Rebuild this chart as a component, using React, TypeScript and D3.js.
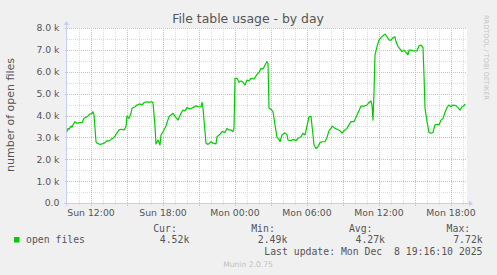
import React from "react";
import * as d3 from "d3";

// ---- data (values in thousands of open files) ----
const times = [
  "2025-12-07 10:00","2025-12-07 10:05","2025-12-07 10:10","2025-12-07 10:20","2025-12-07 10:25","2025-12-07 10:30",
  "2025-12-07 10:40","2025-12-07 10:50","2025-12-07 11:00","2025-12-07 11:15","2025-12-07 11:25","2025-12-07 11:35",
  "2025-12-07 11:45","2025-12-07 11:55","2025-12-07 12:05","2025-12-07 12:10","2025-12-07 12:15","2025-12-07 12:25",
  "2025-12-07 12:30","2025-12-07 12:45","2025-12-07 12:55","2025-12-07 13:10","2025-12-07 13:20","2025-12-07 13:30",
  "2025-12-07 13:40","2025-12-07 13:50","2025-12-07 14:00","2025-12-07 14:10","2025-12-07 14:20","2025-12-07 14:30",
  "2025-12-07 14:45","2025-12-07 14:55","2025-12-07 15:00","2025-12-07 15:10","2025-12-07 15:20","2025-12-07 15:25",
  "2025-12-07 15:40","2025-12-07 15:50","2025-12-07 16:05","2025-12-07 16:15","2025-12-07 16:25","2025-12-07 16:40",
  "2025-12-07 16:50","2025-12-07 17:00","2025-12-07 17:10","2025-12-07 17:20","2025-12-07 17:25","2025-12-07 17:35",
  "2025-12-07 17:45","2025-12-07 17:50","2025-12-07 18:00","2025-12-07 18:15","2025-12-07 18:20","2025-12-07 18:30",
  "2025-12-07 18:40","2025-12-07 18:50","2025-12-07 19:05","2025-12-07 19:15","2025-12-07 19:30","2025-12-07 19:40",
  "2025-12-07 19:50","2025-12-07 20:00","2025-12-07 20:15","2025-12-07 20:30","2025-12-07 20:45","2025-12-07 20:55",
  "2025-12-07 21:10","2025-12-07 21:15","2025-12-07 21:20","2025-12-07 21:30","2025-12-07 21:35","2025-12-07 21:45",
  "2025-12-07 22:00","2025-12-07 22:10","2025-12-07 22:25","2025-12-07 22:30","2025-12-07 22:45","2025-12-07 22:55",
  "2025-12-07 23:10","2025-12-07 23:20","2025-12-07 23:30","2025-12-07 23:40","2025-12-07 23:50","2025-12-07 23:55",
  "2025-12-08 00:00","2025-12-08 00:10","2025-12-08 00:20","2025-12-08 00:30","2025-12-08 00:40","2025-12-08 00:50",
  "2025-12-08 01:00","2025-12-08 01:10","2025-12-08 01:20","2025-12-08 01:35","2025-12-08 01:50","2025-12-08 02:00",
  "2025-12-08 02:10","2025-12-08 02:20","2025-12-08 02:35","2025-12-08 02:40","2025-12-08 02:45","2025-12-08 02:50",
  "2025-12-08 03:00","2025-12-08 03:10","2025-12-08 03:20","2025-12-08 03:30","2025-12-08 03:40","2025-12-08 03:45",
  "2025-12-08 03:55","2025-12-08 04:10","2025-12-08 04:20","2025-12-08 04:25","2025-12-08 04:40","2025-12-08 04:50",
  "2025-12-08 05:05","2025-12-08 05:15","2025-12-08 05:30","2025-12-08 05:40","2025-12-08 05:50","2025-12-08 06:00",
  "2025-12-08 06:10","2025-12-08 06:20","2025-12-08 06:30","2025-12-08 06:35","2025-12-08 06:45","2025-12-08 06:55",
  "2025-12-08 07:05","2025-12-08 07:15","2025-12-08 07:30","2025-12-08 07:40","2025-12-08 07:50","2025-12-08 08:00",
  "2025-12-08 08:05","2025-12-08 08:20","2025-12-08 08:30","2025-12-08 08:45","2025-12-08 08:55","2025-12-08 09:05",
  "2025-12-08 09:20","2025-12-08 09:30","2025-12-08 09:40","2025-12-08 09:55","2025-12-08 10:10","2025-12-08 10:20",
  "2025-12-08 10:30","2025-12-08 10:45","2025-12-08 11:00","2025-12-08 11:10","2025-12-08 11:20","2025-12-08 11:25",
  "2025-12-08 11:30","2025-12-08 11:35","2025-12-08 11:40","2025-12-08 11:50","2025-12-08 12:00","2025-12-08 12:10",
  "2025-12-08 12:20","2025-12-08 12:30","2025-12-08 12:40","2025-12-08 12:50","2025-12-08 13:00","2025-12-08 13:10",
  "2025-12-08 13:20","2025-12-08 13:25","2025-12-08 13:35","2025-12-08 13:45","2025-12-08 13:55","2025-12-08 14:05",
  "2025-12-08 14:15","2025-12-08 14:25","2025-12-08 14:30","2025-12-08 14:40","2025-12-08 14:55","2025-12-08 15:10",
  "2025-12-08 15:20","2025-12-08 15:30","2025-12-08 15:40","2025-12-08 15:45","2025-12-08 15:50","2025-12-08 16:00",
  "2025-12-08 16:10","2025-12-08 16:20","2025-12-08 16:30","2025-12-08 16:40","2025-12-08 16:50","2025-12-08 17:00",
  "2025-12-08 17:10","2025-12-08 17:20","2025-12-08 17:30","2025-12-08 17:40","2025-12-08 17:50","2025-12-08 18:00",
  "2025-12-08 18:10","2025-12-08 18:25","2025-12-08 18:35","2025-12-08 18:45","2025-12-08 18:55","2025-12-08 19:05",
  "2025-12-08 19:10",
];

const openFiles = [
  3.26,3.41,3.37,3.52,3.46,3.57,
  3.72,3.64,3.67,3.67,3.87,3.92,
  3.98,4.07,4.10,4.17,4.02,2.80,
  2.73,2.68,2.70,2.76,2.85,2.83,
  2.91,2.96,3.06,3.21,3.34,3.37,
  3.34,3.49,3.98,3.87,4.10,4.33,
  4.40,4.48,4.53,4.48,4.59,4.63,
  4.60,4.63,4.59,3.49,2.70,2.88,
  2.65,3.11,3.26,3.52,3.67,3.95,
  4.02,4.10,3.90,3.79,4.10,4.25,
  4.21,4.36,4.30,4.36,4.45,4.40,
  4.40,4.60,4.33,3.26,2.73,2.68,
  2.80,2.73,2.70,3.03,3.14,3.26,
  3.23,3.41,3.34,3.34,3.26,3.41,
  5.70,5.70,5.52,5.58,5.52,5.39,
  5.62,5.58,5.70,5.67,5.88,5.97,
  6.16,6.13,6.39,6.46,6.38,4.33,
  4.28,4.17,3.57,3.00,2.91,2.80,
  3.11,3.21,3.11,2.88,2.85,2.91,
  2.85,2.96,3.03,3.19,3.11,3.52,
  3.95,3.95,3.11,2.65,2.49,2.57,
  2.76,2.80,2.80,3.00,3.30,3.41,
  3.52,3.41,3.37,3.30,3.19,3.30,
  3.41,3.57,3.72,3.72,4.02,4.22,
  4.43,4.43,4.48,4.60,4.66,4.48,
  3.79,5.09,6.77,7.15,7.45,7.56,
  7.65,7.72,7.60,7.45,7.45,7.56,
  7.60,7.37,7.15,7.04,6.92,6.99,
  6.89,6.77,6.99,6.99,6.95,6.95,
  7.19,7.22,7.10,5.85,4.33,3.72,
  3.23,3.19,3.23,3.57,3.60,3.57,
  3.79,3.87,4.15,4.36,4.48,4.40,
  4.48,4.45,4.36,4.25,4.40,4.45,
  4.52,
];

const timeDomain = ["2025-12-07 10:00", "2025-12-08 19:20"];
const yTicks = [0, 1, 2, 3, 4, 5, 6, 7, 8];
const yMinorTicks = [0.5, 1.5, 2.5, 3.5, 4.5, 5.5, 6.5, 7.5];
const legendHeaders = ["Cur:", "Min:", "Avg:", "Max:"];
const legendValues = ["4.52k", "2.49k", "4.27k", "7.72k"];
const seriesName = "open files";
const titleText = "File table usage - by day";
const yAxisLabel = "number of open files";
const lastUpdate = "Last update: Mon Dec  8 19:16:10 2025";
const footer = "Munin 2.0.75";
const sideText = "RRDTOOL / TOBI OETIKER";

export default function App() {
  const W = 497, H = 275;
  const L = 67, R = 467, T = 28, B = 203;
  const parse = d3.utcParse("%Y-%m-%d %H:%M");
  const x = d3.scaleUtc().domain(timeDomain.map((s) => parse(s) as Date)).range([L, R]);
  const y = d3.scaleLinear().domain([0, 8]).range([B, T]);

  const minorX = x.ticks(d3.utcHour.every(1) as any).filter((d) => x(d) > L + 0.5);
  const majorX = x.ticks(d3.utcHour.every(3) as any).filter((d) => x(d) > L + 0.5);
  const labelX = x.ticks(d3.utcHour.every(6) as any);
  const fmt = d3.utcFormat("%a %H:%M");

  const pts = times.map((t, i) => [parse(t) as Date, openFiles[i]] as [Date, number]);
  const line = d3.line<[Date, number]>().x((d) => x(d[0])).y((d) => y(d[1]));

  const sans = "'DejaVu Sans', sans-serif";
  const mono = "'DejaVu Sans Mono', monospace";
  const fontCol = "#555";
  const minorCol = "#dcdcdc";
  const majorCol = "#f0b0b0";
  const axisCol = "#c8cff5";
  const valueRight = [189.3, 287.3, 385, 482.7];

  return (
    <svg width={W} height={H} style={{ position: "fixed", left: 0, top: 0, background: "#F0F0F0" }}>
      <rect x={0} y={0} width={W} height={H} fill="#F0F0F0" />
      <rect x={L} y={T} width={R - L} height={B - T} fill="#FFFFFF" />

      {/* minor grid */}
      {yMinorTicks.map((v) => (
        <line key={"ym" + v} x1={L} x2={R} y1={Math.round(y(v)) + 0.5} y2={Math.round(y(v)) + 0.5}
          stroke={minorCol} strokeDasharray="1,1" />
      ))}
      {minorX.map((d) => (
        <line key={"xm" + +d} x1={Math.round(x(d)) + 0.5} x2={Math.round(x(d)) + 0.5} y1={T} y2={B}
          stroke={minorCol} strokeDasharray="1,1" />
      ))}
      {/* major grid */}
      {yTicks.filter((v) => v > 0).map((v) => (
        <line key={"yM" + v} x1={L} x2={R} y1={Math.round(y(v)) + 0.5} y2={Math.round(y(v)) + 0.5}
          stroke={majorCol} strokeDasharray="1,1" />
      ))}
      {majorX.map((d) => (
        <line key={"xM" + +d} x1={Math.round(x(d)) + 0.5} x2={Math.round(x(d)) + 0.5} y1={T} y2={B}
          stroke={majorCol} strokeDasharray="1,1" />
      ))}
      {/* ticks */}
      {yTicks.map((v) => (
        <line key={"yt" + v} x1={L - 2} x2={L} y1={Math.round(y(v)) + 0.5} y2={Math.round(y(v)) + 0.5} stroke={majorCol} />
      ))}
      {majorX.map((d) => (
        <line key={"xt" + +d} x1={Math.round(x(d)) + 0.5} x2={Math.round(x(d)) + 0.5} y1={B} y2={B + 3} stroke={majorCol} />
      ))}
      {minorX.map((d) => (
        <line key={"xtm" + +d} x1={Math.round(x(d)) + 0.5} x2={Math.round(x(d)) + 0.5} y1={B} y2={B + 2} stroke={minorCol} />
      ))}

      {/* axes */}
      <line x1={L - 0.5} x2={L - 0.5} y1={B + 3} y2={T - 5} stroke={axisCol} />
      <path d={`M${L - 3.5},${T - 3} L${L - 0.5},${T - 7} L${L + 2.5},${T - 3} Z`} fill={axisCol} />
      <line x1={L - 3} x2={R + 3} y1={B + 0.5} y2={B + 0.5} stroke={axisCol} />
      <path d={`M${R + 2},${B - 2.5} L${R + 6},${B + 0.5} L${R + 2},${B + 3.5} Z`} fill={axisCol} />

      {/* data line */}
      <path d={line(pts) || ""} fill="none" stroke="#00CC00" strokeWidth={1.2} strokeLinejoin="round" />

      {/* y labels */}
      {yTicks.map((v) => (
        <text key={"yl" + v} x={59.5} y={y(v) + 3.4} textAnchor="end" fontFamily={sans} fontSize={9.3} fill={fontCol}>
          {v === 0 ? "0.0" : v.toFixed(1) + " k"}
        </text>
      ))}
      {/* x labels */}
      {labelX.map((d) => (
        <text key={"xl" + +d} x={x(d)} y={216} textAnchor="middle" fontFamily={sans} fontSize={9.3} fill={fontCol}>
          {fmt(d)}
        </text>
      ))}

      {/* title */}
      <text x={248} y={23} textAnchor="middle" fontFamily={sans} fontSize={12.4} fill={fontCol}>{titleText}</text>
      {/* y axis label */}
      <text transform={`translate(14,115) rotate(-90)`} textAnchor="middle" fontFamily={sans} fontSize={11} fill={fontCol}>
        {yAxisLabel}
      </text>
      {/* side text */}
      <text transform={`translate(484,15) rotate(90)`} fontFamily={sans} fontSize={6.6} fill="#c4c4c4">{sideText}</text>

      {/* legend */}
      <rect x={14} y={237} width={5.5} height={5.5} fill="#00CC00" />
      <text x={26} y={243} fontFamily={mono} fontSize={9.8} fill={fontCol}>{seriesName}</text>
      {legendHeaders.map((h, i) => (
        <text key={h} x={valueRight[i] - 12.5} y={231.5} textAnchor="end" fontFamily={mono} fontSize={9.8} fill={fontCol}>{h}</text>
      ))}
      {legendValues.map((v, i) => (
        <text key={"v" + i} x={valueRight[i]} y={243} textAnchor="end" fontFamily={mono} fontSize={9.8} fill={fontCol}>{v}</text>
      ))}
      <text x={482.5} y={254.5} textAnchor="end" fontFamily={mono} fontSize={9.8} fill={fontCol} style={{ whiteSpace: "pre" }}>
        {lastUpdate}
      </text>
      <text x={248} y={267} textAnchor="middle" fontFamily={sans} fontSize={7.6} fill="#c0c0c0">{footer}</text>
    </svg>
  );
}
